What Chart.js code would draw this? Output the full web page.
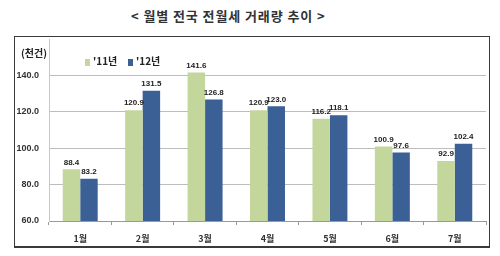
<!DOCTYPE html>
<html>
<head>
<meta charset="utf-8">
<script src="https://cdn.jsdelivr.net/npm/chart.js@4"></script>
<style>
  html, body { margin: 0; padding: 0; background: #fff; }
  body { width: 500px; height: 256px; position: relative; overflow: hidden;
         font-family: "Noto Sans CJK KR", "Liberation Sans", sans-serif; color: #222; }
  #title { position: absolute; left: 131px; top: 6px; font-size: 13px; font-weight: bold; letter-spacing: 0.9px; white-space: nowrap; color: #333; }
  #box { position: absolute; left: 14px; top: 36px; width: 474px; height: 209px; border: 1px solid #3a3a3a; border-bottom-width: 2px; }
  #unit { position: absolute; left: 21px; top: 45px; font-size: 10px; font-weight: bold; }
  .leg { position: absolute; top: 53px; font-size: 10px; font-weight: bold; white-space: nowrap; }
  .sw { display: inline-block; width: 5px; height: 7px; margin-right: 3px; vertical-align: -1px; }
  canvas { position: absolute; left: 0; top: 0; }
</style>
</head>
<body>
<div id="title">&lt; 월별 전국 전월세 거래량 추이 &gt;</div>
<div id="box"></div>
<canvas id="chart" width="500" height="256"></canvas>
<div id="unit">(천건)</div>
<div class="leg" style="left:85px"><span class="sw" style="background:#c3d69b"></span>'11년</div>
<div class="leg" style="left:128px"><span class="sw" style="background:#3b6096"></span>'12년</div>
<script>
// -------- DATOS --------
const meses = ["1월", "2월", "3월", "4월", "5월", "6월", "7월"];
const serie11 = [88.4, 120.9, 141.6, 120.9, 116.2, 100.9, 92.9];
const serie12 = [83.2, 131.5, 126.8, 123.0, 118.1, 97.6, 102.4];
const ticksY = [60, 80, 100, 120, 140];

// -------- ETIQUETAS --------
const etiquetas = {
    id: "etiquetas",
    afterDatasetsDraw(chart) {
        const ctx = chart.ctx;
        ctx.save();
        ctx.font = "bold 8px 'Liberation Sans', sans-serif";
        ctx.fillStyle = "#222";
        ctx.textAlign = "center";
        ctx.textBaseline = "bottom";
        chart.data.datasets.forEach((ds, i) => {
            chart.getDatasetMeta(i).data.forEach((bar, j) => {
                ctx.fillText(ds.data[j].toFixed(1), bar.x, bar.y - 3);
            });
        });
        ctx.restore();
    }
};

new Chart(document.getElementById("chart"), {
    type: "bar",
    data: {
        labels: meses,
        datasets: [
            { label: "'11년", data: serie11, backgroundColor: "#c3d69b" },
            { label: "'12년", data: serie12, backgroundColor: "#3b6096" }
        ]
    },
    options: {
        responsive: false,
        animation: false,
        layout: { padding: { top: 39, right: 14, left: 0, bottom: 0 } },
        categoryPercentage: 0.56,
        barPercentage: 1.0,
        plugins: {
            legend: { display: false },
            tooltip: { enabled: false }
        },
        scales: {
            x: {
                afterFit: s => { s.height = 35; },
                grid: { offset: true, drawOnChartArea: false, drawTicks: true, tickLength: 4, color: "#999" },
                border: { display: true, color: "#999" },
                ticks: { padding: 8, color: "#333", font: { family: "'Noto Sans CJK KR'", size: 9, weight: "bold" } }
            },
            y: {
                min: 60,
                max: 160,
                afterFit: s => { s.width = 49; },
                afterBuildTicks: s => { s.ticks = ticksY.concat([160]).map(v => ({ value: v })); },
                grid: {
                    drawTicks: false,
                    color: c => (c.tick && c.tick.value === 160) ? "rgba(0,0,0,0)" : "#bdbdbd"
                },
                border: { display: true, color: "#c8c8c8" },
                ticks: {
                    padding: 10,
                    color: "#333",
                    font: { family: "'Liberation Sans'", size: 9, weight: "bold" },
                    callback: v => v === 160 ? "" : v.toFixed(1)
                }
            }
        }
    },
    plugins: [etiquetas]
});
</script>
</body>
</html>
